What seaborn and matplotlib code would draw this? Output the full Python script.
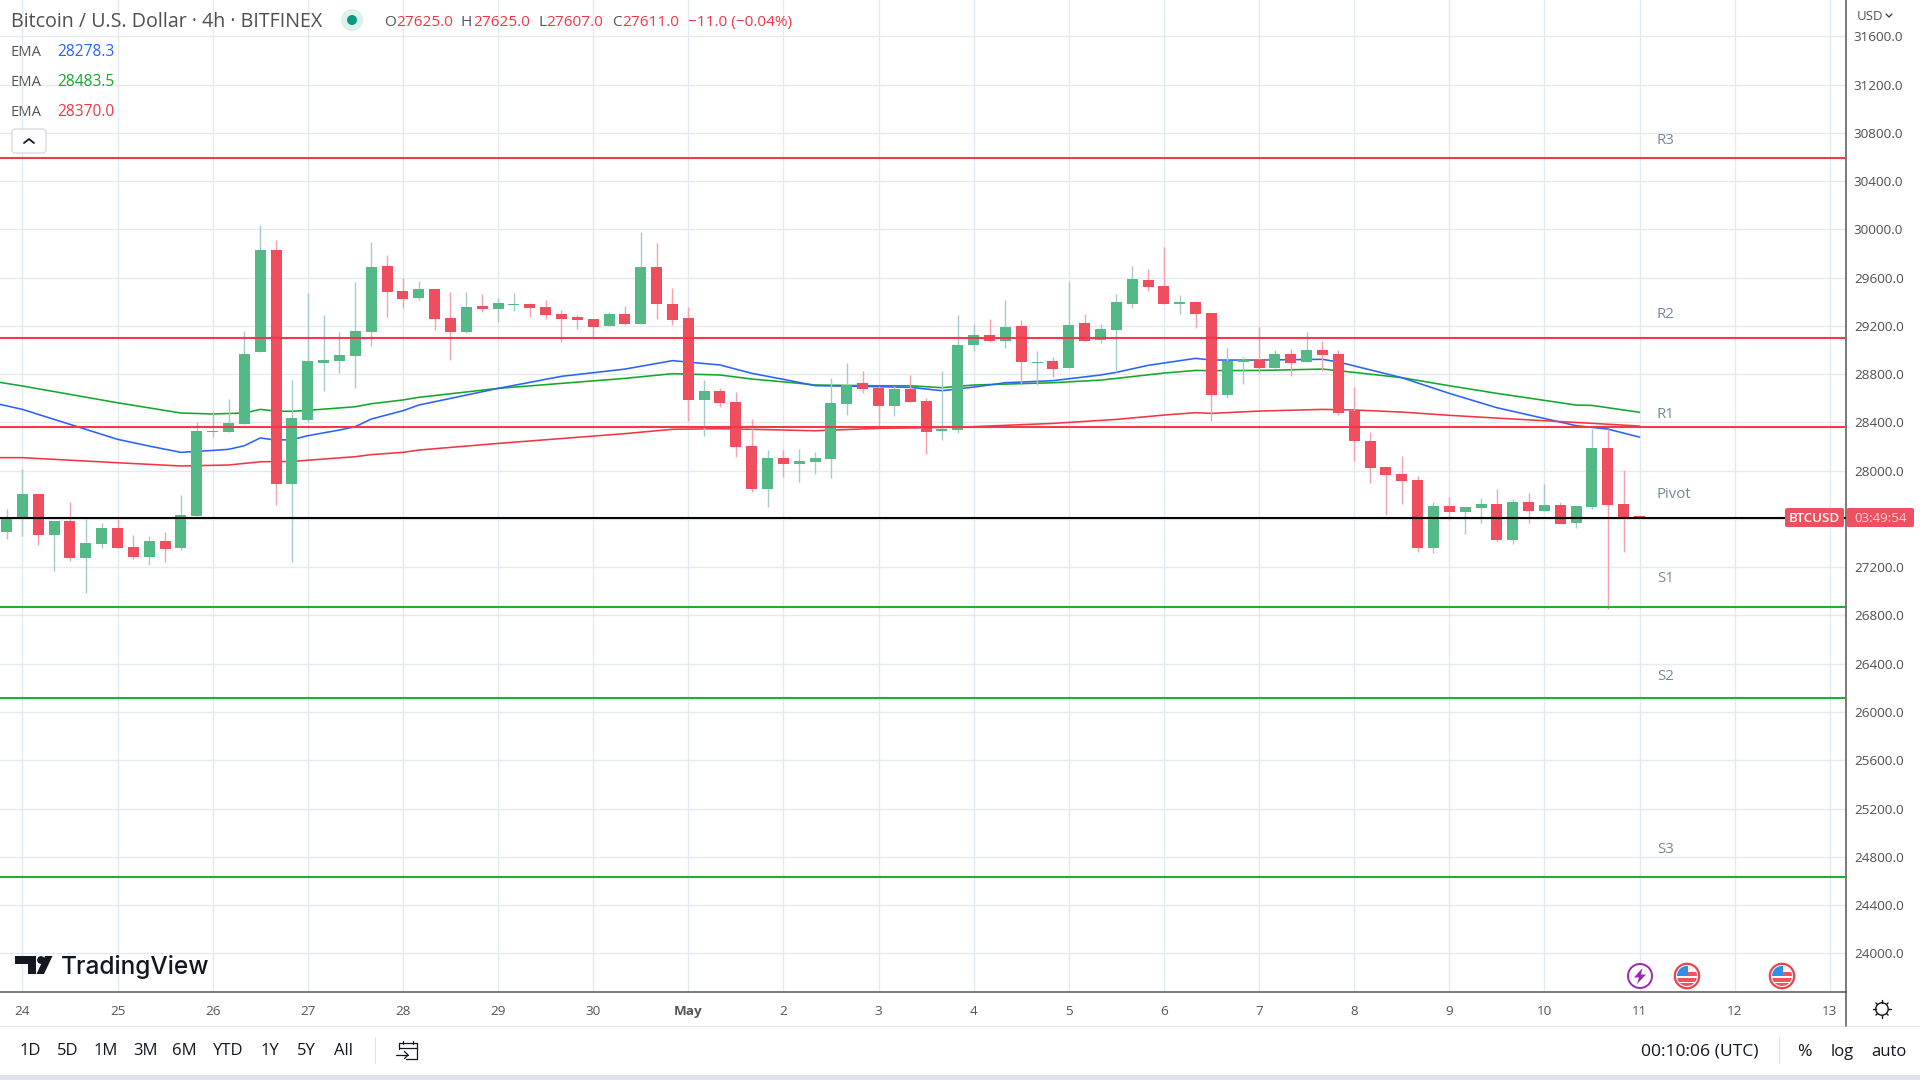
import numpy as np
import pandas as pd
import matplotlib
matplotlib.use("Agg")
import matplotlib.pyplot as plt
from matplotlib.patches import Circle, Rectangle, FancyBboxPatch, Polygon
import seaborn as sns

# ---------- data ----------
candle_index = list(range(-1, 103))
opens = [27494,
 27616,27806,27466,27583,27276,27392, 27525,27367,27284,27417,27359,27624,
 28323,28320,28387,28983,29829,27889, 28420,28892,28909,28950,29149,29696,
 29489,29431,29506,29265,29149,29365, 29340,29373,29381,29356,29298,29274,
 29257,29199,29298,29216,29688,29381, 29265,28586,28660,28569,28204,27848,
 28105,28055,28072,28097,28552,28727, 28685,28536,28677,28577,28329,28337,
 29041,29124,29075,29199,28892,28909, 28851,29224,29083,29166,29381,29580,
 29530,29381,29398,29307,28627,28901, 28917,28851,28967,28901,29000,28967,
 28494,28246,28030,27972,27922,27359, 27707,27657,27690,27724,27425,27740,
 27666,27715,27566,27699,28188,27724, 27625]
highs = [27682,
 28014,27806,27583,27740,27599,27566, 27599,27466,27458,27491,27798,28403,
 28494,28594,29158,30036,29912,28751, 29472,29290,29149,29563,29895,29787,
 29597,29572,29506,29481,29481,29464, 29431,29472,29390,29414,29332,29290,
 29257,29315,29365,29978,29887,29514, 29356,28751,28685,28652,28428,28171,
 28171,28180,28155,28768,28892,28826, 28702,28702,28793,28602,28826,29290,
 29216,29257,29414,29249,28992,28942, 29563,29298,29216,29464,29696,29671,
 29854,29456,29398,29307,29017,28942, 29191,29000,29008,29149,29075,29000,
 28693,28320,28030,28121,27956,27740, 27782,27699,27773,27848,27765,27815,
 27889,27740,27707,28345,28345,28005, 27625]
lows = [27434,
 27458,27384,27168,27251,26986,27359, 27359,27268,27218,27243,27342,27624,
 28279,28320,28387,28983,27715,27243, 28403,28660,28809,28685,29033,29274,
 29348,29414,29166,28917,29141,29315, 29232,29323,29274,29257,29066,29174,
 29108,29199,29207,29216,29257,29207, 28412,28287,28528,28113,27823,27699,
 27947,27906,27972,27939,28461,28644, 28362,28453,28569,28138,28254,28312,
 28992,29066,29017,28710,28710,28776, 28851,29075,29058,28818,29348,29489,
 29381,29298,29182,28412,28602,28718, 28809,28851,28785,28901,28826,28461,
 28080,27898,27632,27724,27326,27317, 27591,27475,27566,27409,27392,27566,
 27666,27558,27525,27682,26853,27326, 27607]
closes = [27616,
 27806,27466,27583,27276,27400,27525, 27359,27284,27417,27351,27632,28329,
 28329,28395,28967,29829,27889,28436, 28909,28917,28959,29158,29688,29481,
 29423,29506,29257,29149,29356,29340, 29390,29381,29348,29290,29257,29249,
 29191,29298,29216,29688,29381,29249, 28586,28660,28561,28196,27848,28105,
 28055,28080,28105,28561,28710,28677, 28536,28677,28569,28320,28345,29041,
 29124,29075,29191,28901,28901,28843, 29207,29075,29174,29398,29588,29522,
 29381,29398,29298,28627,28909,28917, 28851,28967,28892,29000,28958,28478,
 28246,28022,27964,27914,27359,27707, 27657,27699,27724,27425,27740,27666,
 27715,27558,27707,28188,27715,27608, 27611]

ema_green_x = [-1.42,0,6,10,12,14,15,16,17,18,21,22,24,25,30,38,41,44,46,49,50,54,56,58,60,65,68,69,72,74,75,78,82,83,87,90,93,98,99,102]
ema_green_y = [28732,28702,28563,28478,28470,28478,28508,28494,28492,28500,28530,28555,28586,28608,28682,28765,28804,28793,28760,28724,28710,28704,28704,28688,28710,28729,28751,28765,28809,28831,28829,28831,28842,28829,28771,28704,28641,28544,28541,28484]
ema_blue_x = [-1.42,0,3,6,8,10,12,13,14,15,16,17,18,20,21,22,24,25,30,34,38,41,44,46,48,50,54,56,58,60,62,65,68,69,71,74,75,78,82,83,87,90,93,98,100,102]
ema_blue_y = [28550,28508,28384,28260,28204,28152,28168,28177,28207,28271,28254,28257,28290,28337,28365,28428,28497,28544,28682,28782,28842,28912,28876,28807,28757,28705,28696,28691,28663,28693,28729,28746,28793,28815,28873,28931,28917,28917,28923,28901,28771,28641,28522,28373,28345,28278]
ema_red_x = [-1.42,0,6,10,13,15,17,21,22,24,25,30,38,41,44,46,50,54,57,60,65,69,72,74,75,78,82,84,87,90,93,96,98,102]
ema_red_y = [28108,28108,28066,28039,28047,28074,28077,28116,28133,28152,28171,28226,28307,28343,28348,28343,28331,28351,28356,28365,28392,28425,28461,28481,28475,28494,28508,28503,28486,28459,28436,28414,28400,28370]

pivot_names = ["R3", "R2", "R1", "Pivot", "S1", "S2", "S3"]
pivot_levels = [30591, 29102, 28361, 27607, 26870, 26118, 24635]
pivot_colors = ["#F23645", "#F23645", "#F23645", "#000000", "#1AAF2E", "#1AAF2E", "#1AAF2E"]

price_ticks = list(range(24000, 31601, 400))
day_ticks = list(range(0, 115, 6))
day_labels = ["24","25","26","27","28","29","30","May","2","3","4","5","6","7","8","9","10","11","12","13"]

# ---------- style ----------
sns.set_theme(style="white")
FONT = ["Open Sans", "DejaVu Sans"]
plt.rcParams["font.family"] = FONT

W, H = 1920, 1080
fig = plt.figure(figsize=(19.2, 10.8), dpi=100, facecolor="white")
AX_R, AX_B = 1845.5, 992.3
ax = fig.add_axes([0, 1 - AX_B / H, AX_R / W, AX_B / H])

GRID = "#E3EBF1"
AXC = "#555555"
ax.set_xlim(-1.413, 114.99)
ax.set_ylim(23677, 31901)
ax.set_yticks(price_ticks)
# the 27600 label sits under the live price tag in the reference
ax.set_yticklabels(["" if p == 27600 else f"{p:.1f}" for p in price_ticks])
ax.set_xticks(day_ticks)
ax.set_xticklabels(day_labels)
ax.yaxis.tick_right()
ax.tick_params(axis="y", length=0, pad=6, labelsize=9.7, labelcolor="#505050")
ax.tick_params(axis="x", length=0, pad=8.8, labelsize=9.7, labelcolor="#555555")
for t, l in zip(ax.get_xticklabels(), day_labels):
    if l == "May":
        t.set_fontweight("bold")
ax.grid(True, color=GRID, lw=1.05, zorder=0)
ax.set_axisbelow(True)
for s in ["top", "left"]:
    ax.spines[s].set_visible(False)
for s in ["bottom", "right"]:
    ax.spines[s].set_color(AXC)
    ax.spines[s].set_linewidth(1.1)

# EMA lines
for xs, ys, c in [(ema_green_x, ema_green_y, "#14A82A"),
                  (ema_blue_x, ema_blue_y, "#2962FF"),
                  (ema_red_x, ema_red_y, "#F23645")]:
    sns.lineplot(data=pd.DataFrame({"i": xs, "p": ys}), x="i", y="p", ax=ax,
                 color=c, lw=1.15, errorbar=None, legend=False, sort=False, zorder=2)
ax.set_xlabel("")
ax.set_ylabel("")

# candles
df = pd.DataFrame({"i": candle_index, "o": opens, "h": highs, "l": lows, "c": closes})
up = df["c"] >= df["o"]
ax.vlines(df["i"], df["l"], df["h"], colors=np.where(up, "#A5CBCC", "#F8A1AC"), lw=1.0, zorder=3)
ax.bar(df["i"], (df["c"] - df["o"]).abs(), bottom=df[["o", "c"]].min(axis=1), width=0.694,
       color=np.where(up, "#53B987", "#EE4E5E"), lw=0, zorder=3.5)

# pivot levels
for lvl, c in zip(pivot_levels, pivot_colors):
    ax.axhline(lvl, color=c, lw=1.5, zorder=4, alpha=0.98)

# ---------- chrome overlay in pixel coordinates ----------
ui = fig.add_axes([0, 0, 1, 1], zorder=5)
ui.set_xlim(0, W)
ui.set_ylim(H, 0)
ui.axis("off")
ui.patch.set_alpha(0)

def txt(x, y, s, size=11, color="#555555", ha="left", **kw):
    kw.setdefault("family", FONT)
    return ui.text(x, y + 1.5, s, fontsize=size, color=color, ha=ha, va="center", **kw)

def seg(xs, ys, color="#131722", lw=1.1, **kw):
    ui.plot(xs, ys, color=color, lw=lw, solid_capstyle="round", **kw)

# pivot labels
for name, y in zip(pivot_names, [138.5, 313.5, 413.5, 493.5, 577.5, 675, 848]):
    txt(1657, y, name, size=10.8, color="#75889A")

# header
RED = "#F23645"
txt(11, 20.5, "Bitcoin / U.S. Dollar \u00b7 4h \u00b7 BITFINEX", size=14.1, color="#505050")
ui.add_patch(Circle((352, 20), 11, color="#DDF1EC", lw=0))
ui.add_patch(Circle((352, 20), 5, color="#089981", lw=0))
for lx, vx, lab, val in [(384, 396, "O", "27625.0"), (461, 473, "H", "27625.0"),
                         (538, 546, "L", "27607.0"), (612, 622, "C", "27611.0")]:
    txt(lx, 21, lab, size=11.1, color="#555555")
    txt(vx, 21, val, size=11.1, color=RED)
txt(688, 21, "\u221211.0 (\u22120.04%)", size=11.1, color=RED)

for y, val, c in [(50.5, "28278.3", "#2962FF"), (80.5, "28483.5", "#14A82A"), (110.5, "28370.0", RED)]:
    txt(11, y, "EMA", size=10.6, color="#555555")
    txt(57.5, y, val, size=11.2, color=c)
ui.add_patch(FancyBboxPatch((12, 129), 34, 24, boxstyle="round,pad=0,rounding_size=3",
                            fc="white", ec="#D1D4DC", lw=0.8))
seg([24, 29, 34], [143, 139, 143], lw=1.3)

# right price axis extras
ui.add_patch(Rectangle((1847, 4), 70, 22, color="white", lw=0, alpha=0.75))
txt(1857, 15, "USD", size=9.5, color="#555555")
seg([1886, 1889, 1892], [14, 17, 14], lw=0.9, color="#333333")
seg([AX_R, AX_R], [992, 1026], color=AXC, lw=1.1)
ui.add_patch(FancyBboxPatch((1785, 508), 59, 19, boxstyle="round,pad=0,rounding_size=2",
                            fc="#EF5060", ec="none"))
ui.add_patch(FancyBboxPatch((1846.5, 508), 67.5, 19, boxstyle="round,pad=0,rounding_size=2",
                            fc="#EF5060", ec="none"))
txt(1814.5, 516.5, "BTCUSD", size=9.6, color="white", ha="center", fontweight="semibold")
txt(1880.5, 516.5, "03:49:54", size=9.6, color="#FFD5DA", ha="center")

# events on the time axis
ui.add_patch(Circle((1640, 976), 12, fc="white", ec="#9C27B0", lw=1.4))
ui.add_patch(Polygon([(1642.5, 968), (1634, 977.5), (1639, 977.5), (1637, 984), (1646, 974.5), (1641, 974.5)],
                     closed=True, fc="#9C27B0", ec="none"))
for cx in (1687, 1782):
    ring = Circle((cx, 976), 12.2, fc="white", ec="#F0404F", lw=1.6)
    ui.add_patch(ring)
    clip = Circle((cx, 976), 10, transform=ui.transData)
    for y0, h, c, x0, w in [(966, 4, "#F2F2F2", cx - 10, 20), (971.5, 4, "#EF5360", cx, 10),
                            (978, 4, "#EF5360", cx - 10, 20), (983, 3, "#EF5360", cx - 10, 20)]:
        r = Rectangle((x0, y0), w, h, color=c, lw=0)
        ui.add_patch(r)
        r.set_clip_path(clip)
    r = Rectangle((cx - 10, 966), 10.5, 10, color="#2E8FE6", lw=0)
    ui.add_patch(r)
    r.set_clip_path(clip)

# watermark
LOGO = "#131722"
ui.add_patch(Polygon([(15, 956), (35.5, 956), (35.5, 974), (27.5, 974), (27.5, 964), (15, 964)], closed=True, fc=LOGO, ec="none"))
ui.add_patch(Circle((41, 960), 3.9, fc=LOGO, ec="none"))
ui.add_patch(Polygon([(44, 974), (36.5, 974), (45, 956), (52.5, 956)], closed=True, fc=LOGO, ec="none"))
txt(61, 965.5, "TradingView", size=17.6, color=LOGO, fontweight="medium", family=["Inter", "DejaVu Sans"])

# bottom toolbar
ui.add_patch(Rectangle((0, 1026), W, 1.4, color="#E0E3EB", lw=0))
ui.add_patch(Rectangle((0, 1075), W, 5, color="#E0E3EB", lw=0))
for x, s in zip([30, 68, 106, 145, 184, 228, 270, 306, 344],
                ["1D", "5D", "1M", "3M", "6M", "YTD", "1Y", "5Y", "All"]):
    txt(x, 1049.5, s, size=12, color="#131722", ha="center")
ui.add_patch(Rectangle((375, 1037), 1, 27, color="#E0E3EB", lw=0))
# calendar icon
seg([399, 399, 417, 417, 406], [1049, 1043, 1043, 1059, 1059], lw=0.9)
seg([399, 417], [1047.5, 1047.5], lw=0.9)
seg([403, 403], [1041, 1044], lw=0.9)
seg([413, 413], [1041, 1044], lw=0.9)
seg([396, 408], [1055, 1055], lw=0.9)
seg([404.5, 408, 404.5], [1051.5, 1055, 1058.5], lw=0.9)

txt(1700, 1050, "00:10:06 (UTC)", size=12.6, color="#131722", ha="center")
ui.add_patch(Rectangle((1779, 1037), 1, 27, color="#E0E3EB", lw=0))
txt(1804, 1050, "%", size=12.6, color="#131722", ha="center")
txt(1842, 1050, "log", size=12, color="#131722", ha="center")
txt(1889, 1050, "auto", size=12, color="#131722", ha="center")

# settings gear
ui.add_patch(Circle((1882, 1009), 6.2, fc="white", ec="#131722", lw=1.0))
for a in np.arange(0, 2 * np.pi, np.pi / 4):
    seg([1882 + 6.4 * np.cos(a), 1882 + 8.6 * np.cos(a)],
        [1009 + 6.4 * np.sin(a), 1009 + 8.6 * np.sin(a)], lw=1.0)

fig.savefig("out.png", dpi=100, facecolor="white")
